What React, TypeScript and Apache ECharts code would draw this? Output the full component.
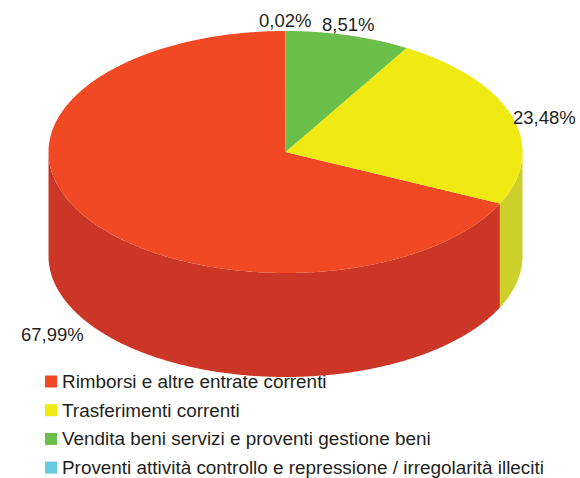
import React, { useEffect, useRef } from "react";
import * as echarts from "echarts";

const categories = [
  "Rimborsi e altre entrate correnti",
  "Trasferimenti correnti",
  "Vendita beni servizi e proventi gestione beni",
  "Proventi attività controllo e repressione / irregolarità illeciti",
];
const values = [67.99, 23.48, 8.51, 0.02];
const topColors = ["#F04923", "#F0E912", "#6ABF4B", "#66CBDD"];
const wallColors = ["#CB3626", "#CDD02A", "#5A9E40", "#55A8B8"];
const valueLabels = ["67,99%", "23,48%", "8,51%", "0,02%"];

const CX = 285.5;
const CY = 152;
const RX = 237;
const RY = 121;
const DEPTH = 104;
const TEXT = "#231F20";
const FONT = "Liberation Sans, Arial, sans-serif";

const total = values.reduce((a, b) => a + b, 0);
// Slices run clockwise from 12 o'clock, last category first.
function sliceRange(index: number): [number, number] {
  let before = 0;
  for (let i = values.length - 1; i > index; i--) before += values[i];
  return [(before / total) * 360, ((before + values[index]) / total) * 360];
}
function rim(deg: number, dy = 0): number[] {
  const t = (deg * Math.PI) / 180;
  return [CX + RX * Math.sin(t), CY - RY * Math.cos(t) + dy];
}
function arc(a: number, b: number, dy = 0): number[][] {
  const pts: number[][] = [];
  const n = Math.max(2, Math.ceil((b - a) * 2));
  for (let i = 0; i <= n; i++) pts.push(rim(a + ((b - a) * i) / n, dy));
  return pts;
}

function makeRenderItem(index: number) {
  return () => {
    const [a, b] = sliceRange(index);
    const children: any[] = [];
    const wa = Math.max(a, 90);
    const wb = Math.min(b, 270);
    if (wb > wa) {
      children.push({
        type: "polygon",
        shape: { points: [...arc(wa, wb), ...arc(wa, wb, DEPTH).reverse()] },
        style: { fill: wallColors[index] },
      });
    }
    children.push({
      type: "polygon",
      shape: { points: [[CX, CY], ...arc(a, b)] },
      style: { fill: topColors[index] },
    });
    return { type: "group", children };
  };
}

const labelAnchors = [
  { x: 21, y: 334, size: 18.5 },
  { x: 513, y: 117.5, size: 18.5 },
  { x: 322, y: 24.5, size: 18.5 },
  { x: 259, y: 20, size: 18.5 },
];

export default function App() {
  const ref = useRef<HTMLDivElement>(null);
  useEffect(() => {
    const chart = echarts.init(ref.current!, null, { renderer: "svg" });
    chart.setOption({
      animation: false,
      backgroundColor: "#ffffff",
      legend: {
        orient: "vertical",
        left: 40,
        top: 367,
        width: 540,
        height: 120,
        z: 1,
        itemWidth: 12,
        itemHeight: 12,
        itemGap: 9.7,
        selectedMode: false,
        icon: "rect",
        textStyle: {
          color: TEXT,
          fontFamily: FONT,
          fontSize: 18.9,
          lineHeight: 18,
        },
        data: categories,
      },
      graphic: valueLabels.map((t, i) => ({
        type: "text",
        x: labelAnchors[i].x,
        y: labelAnchors[i].y,
        z: 20,
        style: {
          text: t,
          fill: TEXT,
          font: `${labelAnchors[i].size}px ${FONT}`,
          textVerticalAlign: "middle",
        },
      })),
      series: categories.map((name, i) => ({
        type: "custom",
        name,
        coordinateSystem: "none",
        z: 5,
        silent: true,
        itemStyle: { color: topColors[i] },
        data: [[values[i]]],
        renderItem: makeRenderItem(i),
      })),
    });
    return () => chart.dispose();
  }, []);
  return <div ref={ref} style={{ position: "absolute", left: 0, top: 0, width: 580, height: 478 }} />;
}
